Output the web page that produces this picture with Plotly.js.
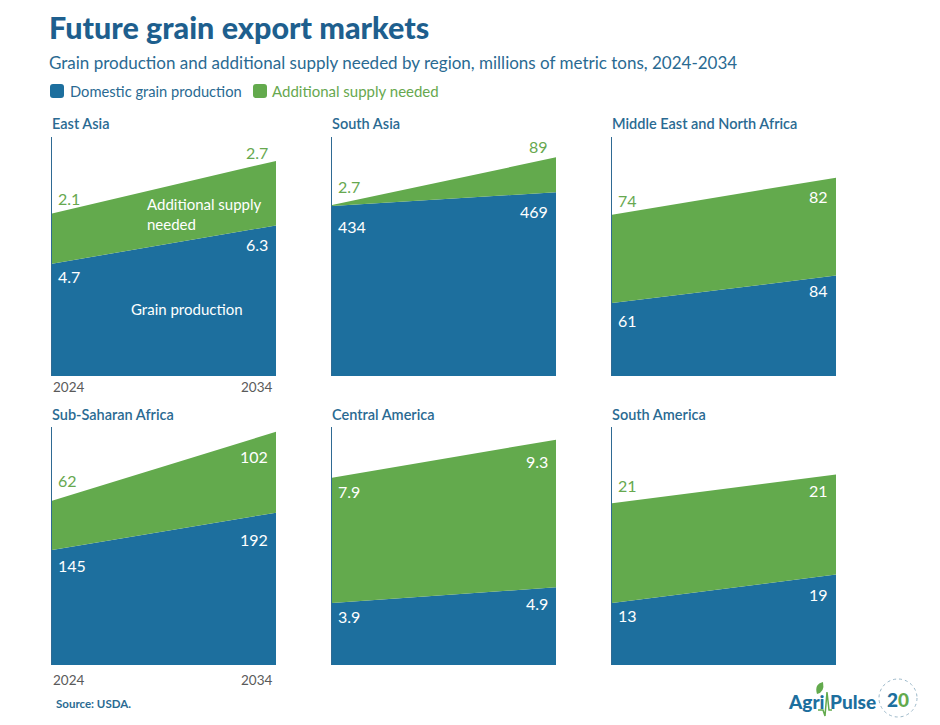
<!DOCTYPE html>
<html><head><meta charset="utf-8">
<script src="https://cdn.plot.ly/plotly-3.0.1.min.js"></script>
<style>html,body{margin:0;padding:0;background:#fff}#chart{width:940px;height:725px}</style>
</head><body><div id="chart"></div>
<script>
// ---------- data ----------
const regions = ["East Asia", "South Asia", "Middle East and North Africa",
                 "Sub-Saharan Africa", "Central America", "South America"];
const years = [2024, 2034];
const yearLabels = ["2024", "2034"];
const production = [[4.7, 6.3], [434, 469], [61, 84], [145, 192], [3.9, 4.9], [13, 19]];
const additional = [[2.1, 2.7], [2.7, 89], [74, 82], [62, 102], [7.9, 9.3], [21, 21]];
const seriesNames = ["Domestic grain production", "Additional supply needed"];

// ---------- styling / layout config ----------
const BLUE = "#1d6f9e", GREEN = "#63aa4d", GREEN_TXT = "#67a84f";
const TITLE_BLUE = "#1e5f8e", TEXT_BLUE = "#2a6a92";
const FONT = "Lato, 'Open Sans', sans-serif";
const yMax = [10, 610, 200, 300, 15, 50];
const colX = [[52, 276], [332, 556], [612, 836]];
const rowY = [[137, 376], [427, 665]];
// label vertical offsets (px, positive = up), per panel
const shiftAddL = [15, 18, 14, 20, -14, 18];
const shiftAddR = [8, 11, -19, -25, -22, -16];
const shiftProdL = [-13, -21, -17, -16, -13, -12];
const shiftProdR = [-19, -19, -15, -27, -16, -20];

const W = 940, H = 725;
const px = x => x / W;
const py = y => 1 - y / H;

const traces = [];
const layout = {
  width: W, height: H,
  margin: {l: 0, r: 0, t: 0, b: 0},
  paper_bgcolor: "#fff", plot_bgcolor: "rgba(0,0,0,0)",
  showlegend: false,
  font: {family: FONT},
  annotations: [], shapes: []
};

function ann(o) {
  layout.annotations.push(Object.assign({showarrow: false, borderpad: 0}, o));
}

regions.forEach((name, i) => {
  const col = i % 3, row = Math.floor(i / 3);
  const xa = "x" + (i === 0 ? "" : i + 1), ya = "y" + (i === 0 ? "" : i + 1);
  const xk = "xaxis" + (i === 0 ? "" : i + 1), yk = "yaxis" + (i === 0 ? "" : i + 1);
  traces.push({
    type: "scatter", mode: "none", x: years, y: production[i], name: seriesNames[0],
    stackgroup: "g" + i, fillcolor: BLUE, xaxis: xa, yaxis: ya, hoverinfo: "x+y+name"
  });
  traces.push({
    type: "scatter", mode: "none", x: years, y: additional[i], name: seriesNames[1],
    stackgroup: "g" + i, fillcolor: GREEN, xaxis: xa, yaxis: ya, hoverinfo: "x+y+name"
  });
  layout[xk] = {
    domain: [px(colX[col][0]), px(colX[col][1])], range: [years[0], years[1]],
    showticklabels: false, showgrid: false, zeroline: false, showline: false,
    ticks: "", anchor: ya, fixedrange: true
  };
  layout[yk] = {
    domain: [py(rowY[row][1]), py(rowY[row][0])], range: [0, yMax[i]],
    showticklabels: false, showgrid: false, zeroline: false,
    showline: true, linecolor: "#2f6a93", linewidth: 1, ticks: "",
    anchor: xa, fixedrange: true
  };
  // panel title
  ann({text: name, xref: "paper", yref: "paper", x: px(colX[col][0] - 1), y: py(rowY[row][0] - 13),
       xanchor: "left", yanchor: "middle",
       font: {size: 14.5, color: TEXT_BLUE, family: FONT, weight: 600}});
  // value labels
  const tot0 = production[i][0] + additional[i][0];
  const tot1 = production[i][1] + additional[i][1];
  const addInL = shiftAddL[i] < 0, addInR = shiftAddR[i] < 0;
  ann({text: String(additional[i][0]), xref: xa, yref: ya, x: years[0], y: tot0,
       xanchor: "left", yanchor: "middle", xshift: 5, yshift: shiftAddL[i],
       font: {size: 16, color: addInL ? "#fff" : GREEN_TXT, family: FONT}});
  ann({text: String(additional[i][1]), xref: xa, yref: ya, x: years[1], y: tot1,
       xanchor: "right", yanchor: "middle", xshift: -7, yshift: shiftAddR[i],
       font: {size: 16, color: addInR ? "#fff" : GREEN_TXT, family: FONT}});
  ann({text: String(production[i][0]), xref: xa, yref: ya, x: years[0], y: production[i][0],
       xanchor: "left", yanchor: "middle", xshift: 5, yshift: shiftProdL[i],
       font: {size: 16, color: "#fff", family: FONT}});
  ann({text: String(production[i][1]), xref: xa, yref: ya, x: years[1], y: production[i][1],
       xanchor: "right", yanchor: "middle", xshift: -7, yshift: shiftProdR[i],
       font: {size: 16, color: "#fff", family: FONT}});
  // year tick labels on left column
  if (col === 0) {
    const ty = row === 0 ? 387 : 680;
    ann({text: yearLabels[0], xref: xa, yref: "paper", x: years[0], y: py(ty),
         xanchor: "left", yanchor: "middle", xshift: 0,
         font: {size: 13.5, color: "#5a5a5a", family: FONT}});
    ann({text: yearLabels[1], xref: xa, yref: "paper", x: years[1], y: py(ty),
         xanchor: "right", yanchor: "middle", xshift: -3,
         font: {size: 13.5, color: "#5a5a5a", family: FONT}});
  }
});

// in-chart series labels for East Asia
ann({text: "Additional supply<br>needed", xref: "paper", yref: "paper", x: px(146), y: py(214),
     xanchor: "left", yanchor: "middle", align: "left",
     font: {size: 15, color: "#fff", family: FONT}});
ann({text: "Grain production", xref: "paper", yref: "paper", x: px(187), y: py(309),
     xanchor: "center", yanchor: "middle",
     font: {size: 15, color: "#fff", family: FONT}});

// titles
ann({text: "Future grain export markets", xref: "paper", yref: "paper", x: px(48), y: py(27),
     xanchor: "left", yanchor: "middle",
     font: {size: 30.5, color: TITLE_BLUE, family: FONT, weight: 900}});
ann({text: "Grain production and additional supply needed by region, millions of metric tons, 2024-2034",
     xref: "paper", yref: "paper", x: px(48), y: py(63), xanchor: "left", yanchor: "middle",
     font: {size: 17, color: TEXT_BLUE, family: FONT}});

// legend
function roundSquare(cx, cy, color) {
  layout.shapes.push({
    type: "path", xref: "paper", yref: "paper", xsizemode: "pixel", ysizemode: "pixel",
    xanchor: px(cx), yanchor: py(cy),
    path: "M -4 -7 L 4 -7 Q 7 -7 7 -4 L 7 4 Q 7 7 4 7 L -4 7 Q -7 7 -7 4 L -7 -4 Q -7 -7 -4 -7 Z",
    fillcolor: color, line: {width: 0}
  });
}
roundSquare(57, 91, BLUE);
roundSquare(260, 91, GREEN);
ann({text: seriesNames[0], xref: "paper", yref: "paper", x: px(69), y: py(91),
     xanchor: "left", yanchor: "middle", font: {size: 14.7, color: TEXT_BLUE, family: FONT}});
ann({text: seriesNames[1], xref: "paper", yref: "paper", x: px(271), y: py(91),
     xanchor: "left", yanchor: "middle", font: {size: 15, color: GREEN_TXT, family: FONT}});

// source
ann({text: "Source: USDA.", xref: "paper", yref: "paper", x: px(55), y: py(703),
     xanchor: "left", yanchor: "middle", font: {size: 11.5, color: TEXT_BLUE, family: FONT, weight: 700}});

// logo (approximation)
ann({text: "Agri", xref: "paper", yref: "paper", x: px(787), y: py(701),
     xanchor: "left", yanchor: "middle", font: {size: 19, color: BLUE, family: FONT, weight: 900}});
ann({text: "Pulse", xref: "paper", yref: "paper", x: px(829), y: py(701),
     xanchor: "left", yanchor: "middle", font: {size: 19, color: BLUE, family: FONT, weight: 900}});
layout.shapes.push({type: "path", xref: "paper", yref: "paper", xsizemode: "pixel", ysizemode: "pixel",
  xanchor: px(818), yanchor: py(710),
  path: "M 0 0 L 5 0 L 7 -6 L 9 18 L 11 0 L 14 0", line: {color: GREEN, width: 1.5}});
layout.shapes.push({type: "path", xref: "paper", yref: "paper", xsizemode: "pixel", ysizemode: "pixel",
  xanchor: px(817), yanchor: py(688),
  path: "M 0 -6 Q 8 -4 6 6 Q -3 4 0 -6 Z", fillcolor: GREEN, line: {width: 0}});
layout.shapes.push({type: "circle", xref: "paper", yref: "paper", xsizemode: "pixel", ysizemode: "pixel",
  xanchor: px(898), yanchor: py(698), x0: -19, x1: 19, y0: -19, y1: 19,
  line: {color: "#9bb8c9", width: 1, dash: "dot"}});
ann({text: "2<span style='color:" + GREEN + "'>0</span>", xref: "paper", yref: "paper", x: px(898), y: py(699),
     xanchor: "center", yanchor: "middle", font: {size: 19, color: BLUE, family: FONT, weight: 900}});

Plotly.newPlot("chart", traces, layout, {displayModeBar: false, staticPlot: true});
</script></body></html>
